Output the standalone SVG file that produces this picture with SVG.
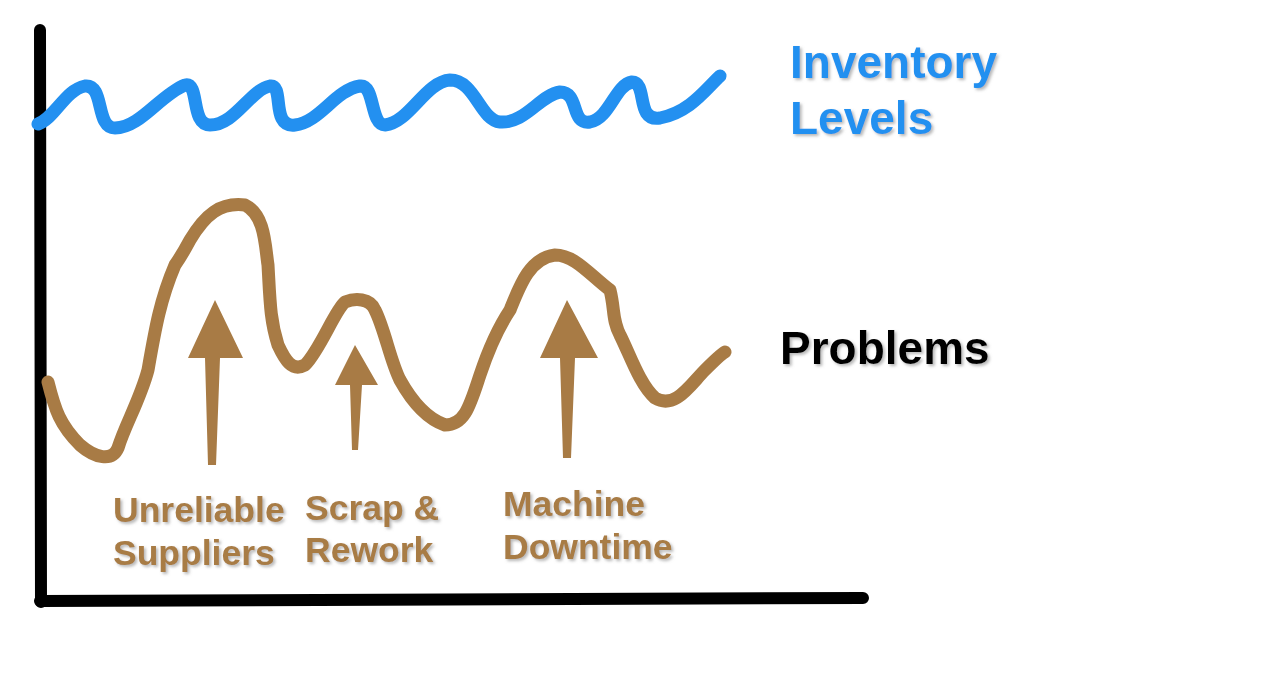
<svg xmlns="http://www.w3.org/2000/svg" width="1266" height="698" viewBox="0 0 1266 698">
<style>
.ax{stroke:#000;stroke-width:12;stroke-linecap:round;fill:none}
.bl{stroke:#2390F0;stroke-width:13;stroke-linecap:round;stroke-linejoin:round;fill:none}
.br{stroke:#A87B45;stroke-width:13;stroke-linecap:round;stroke-linejoin:round;fill:none}
.ar{fill:#A87B45}
text{font-family:"Liberation Sans",Arial,sans-serif;font-weight:bold;filter:url(#sh)}
.t1{fill:#2390F0;font-size:46px}
.t2{fill:#000;font-size:46px}
.t3{fill:#A87B45;font-size:35.5px}
</style>
<defs><filter id="sh" x="-10%" y="-20%" width="120%" height="140%"><feDropShadow dx="2" dy="2" stdDeviation="1.5" flood-color="#888" flood-opacity="0.6"/></filter></defs>
<g id="axes">
<path class="ax" d="M40 30 L41 602"/>
<path class="ax" d="M40 601 L863 598"/>
</g>
<g id="inventory">
<path class="bl" d="M38 124 C55 118 65 90 85 86 C105 84 95 128 115 128 C140 128 160 95 185 85 C200 82 190 125 210 125 C235 125 250 90 270 86 C285 84 270 128 295 125 C320 122 335 90 360 86 C375 84 370 125 385 125 C410 122 425 82 450 80 C475 80 480 120 500 122 C525 124 540 95 560 92 C580 92 570 125 590 122 C610 118 615 85 632 82 C648 82 635 122 660 118 C690 112 705 90 720 76"/>
</g>
<g id="problems-curve">
<path class="br" d="M48 382 C55 410 60 425 80 445 C95 458 112 462 118 448 C125 425 140 400 148 370 C155 330 160 300 175 265 C182 255 182 255 190 240 C205 215 220 202 245 205 C265 215 265 245 268 265 C270 300 270 320 278 345 C285 360 292 372 305 365 C320 350 335 310 345 302 C355 298 370 298 375 310 C385 330 390 360 400 380 C410 398 425 418 445 425 C465 425 470 405 480 375 C490 345 500 325 510 310 C520 285 530 258 555 255 C575 255 590 275 610 290 C615 310 612 320 620 335 C630 355 640 385 655 398 C675 410 690 385 705 370 C715 360 720 355 725 352"/>
</g>
<g id="arrows">
<path class="ar" d="M208 465 L205 358 L188 358 L215 300 L243 358 L220 358 L216 465 Z"/>
<path class="ar" d="M352 450 L350 385 L335 385 L355 345 L378 385 L362 385 L358 450 Z"/>
<path class="ar" d="M563 458 L560 358 L540 358 L567 300 L598 358 L575 358 L571 458 Z"/>
</g>
<g id="labels">
<text class="t1" x="790" y="78">Inventory</text>
<text class="t1" x="790" y="134">Levels</text>
<text class="t2" x="780" y="364">Problems</text>
<text class="t3" x="113" y="522">Unreliable</text>
<text class="t3" x="113" y="565">Suppliers</text>
<text class="t3" x="305" y="520">Scrap &amp;</text>
<text class="t3" x="305" y="562">Rework</text>
<text class="t3" x="503" y="516">Machine</text>
<text class="t3" x="503" y="559">Downtime</text>
</g>
</svg>
